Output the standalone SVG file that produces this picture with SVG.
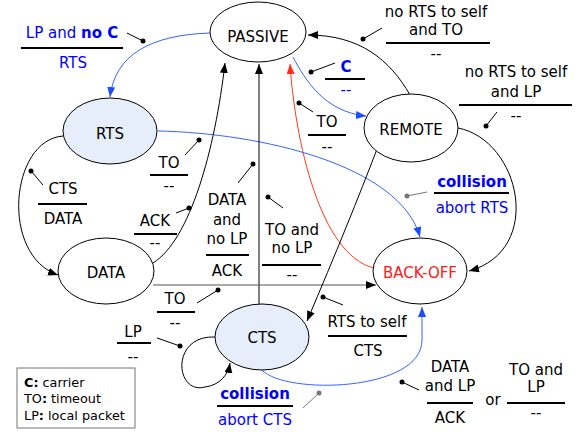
<svg xmlns="http://www.w3.org/2000/svg" width="576" height="433" viewBox="0 0 576 433">
<style>
text{font-family:"DejaVu Sans","Verdana",sans-serif;font-size:15px;fill:#000;text-anchor:middle}
.b{fill:#0000ff}
.r{fill:#ff1a1a}
.bold{font-weight:bold}
.node{fill:#fff;stroke:#000;stroke-width:1}
.hl{fill:#e6eefc}
.bar{stroke:#000;stroke-width:2}
.ptr{stroke:#000;stroke-width:1}
.ptrg{stroke:#777;stroke-width:1}
.dot{fill:#000}
.dotg{fill:#777}
.c{fill:none;stroke-width:1}
.k{stroke:#000}
.bl{stroke:#3366ff}
.rd{stroke:#ff3b1a}
.gy{stroke:#555}
.leg{font-size:12.8px;text-anchor:start}
</style>
<defs>
<marker id="ak" markerUnits="userSpaceOnUse" markerWidth="11" markerHeight="9" refX="10" refY="4" orient="auto"><path d="M0,0 L10,4 L0,8 z" fill="#000"/></marker>
<marker id="ab" markerUnits="userSpaceOnUse" markerWidth="11" markerHeight="9" refX="10" refY="4" orient="auto"><path d="M0,0 L10,4 L0,8 z" fill="#1a4dff"/></marker>
<marker id="ar" markerUnits="userSpaceOnUse" markerWidth="11" markerHeight="9" refX="10" refY="4" orient="auto"><path d="M0,0 L10,4 L0,8 z" fill="#ff2a1a"/></marker>
<marker id="ag" markerUnits="userSpaceOnUse" markerWidth="11" markerHeight="9" refX="10" refY="4" orient="auto"><path d="M0,0 L10,4 L0,8 z" fill="#000"/></marker>
</defs>

<g id="connectors">
<path class="c bl" d="M210,33 C150,35 115,55 110,97" marker-end="url(#ab)"/>
<path class="c bl" d="M293,57 C305,80 325,112 366,116" marker-end="url(#ab)"/>
<path class="c k" d="M410,95 C390,60 360,35 308,35" marker-end="url(#ak)"/>
<path class="c rd" d="M374,268 C320,255 295,140 290,64" marker-end="url(#ar)"/>
<path class="c bl" d="M158,131 C260,133 400,165 420,237" marker-end="url(#ab)"/>
<path class="c k" d="M63,136 C10,140 0,255 58,275" marker-end="url(#ak)"/>
<path class="c k" d="M153,263 C190,240 215,150 225,63" marker-end="url(#ak)"/>
<path class="c k" d="M259,305 L259,64" marker-end="url(#ak)"/>
<path class="c gy" d="M153,285 L376,285" marker-end="url(#ag)"/>
<path class="c k" d="M377,149 Q350,220 307,321" marker-end="url(#ak)"/>
<path class="c k" d="M458,128 C520,140 545,250 469,271" marker-end="url(#ak)"/>
<path class="c k" d="M215,337 C170,335 175,395 205,387 C220,385 228,375 230,363" marker-end="url(#ak)"/>
<path class="c bl" d="M262,370 C285,395 422,392 422,340 L422,307" marker-end="url(#ab)"/>
</g>

<g id="passive"><ellipse class="node" cx="258" cy="32" rx="48" ry="30"/><text x="258" y="42">PASSIVE</text></g>
<g id="rts"><ellipse class="node hl" cx="110" cy="131" rx="47" ry="33"/><text x="110" y="139">RTS</text></g>
<g id="remote"><ellipse class="node" cx="411" cy="128" rx="47" ry="34"/><text x="411" y="135">REMOTE</text></g>
<g id="data"><ellipse class="node" cx="106" cy="271" rx="48" ry="33"/><text x="106" y="278">DATA</text></g>
<g id="backoff"><ellipse class="node" cx="420" cy="271" rx="47" ry="33"/><text class="r" x="420" y="278">BACK-OFF</text></g>
<g id="cts"><ellipse class="node hl" cx="262" cy="337" rx="47" ry="33"/><text x="262" y="343">CTS</text></g>

<g id="labels">
<g id="lA">
<text class="b" x="72" y="38">LP and <tspan class="bold">no C</tspan></text>
<line class="bar" x1="21" y1="48" x2="123" y2="48"/>
<text class="b" x="73" y="68">RTS</text>
<line class="ptr" x1="127" y1="33" x2="143" y2="41"/><circle class="dot" cx="143" cy="41" r="2.5"/>
</g>
<g id="lB">
<text class="b bold" x="346" y="72">C</text>
<line class="bar" x1="325" y1="79" x2="365" y2="79"/>
<text class="b" x="346" y="95">--</text>
<line class="ptr" x1="335" y1="63" x2="311" y2="72"/><circle class="dot" cx="311" cy="72" r="2.5"/>
</g>
<g id="lC">
<text x="436" y="17">no RTS to self</text>
<text x="436" y="35">and TO</text>
<line class="bar" x1="386" y1="43" x2="490" y2="43"/>
<text x="436" y="59">--</text>
<line class="ptr" x1="382" y1="28" x2="363" y2="39"/><circle class="dot" cx="363" cy="39" r="2.5"/>
</g>
<g id="lD">
<text x="516" y="77">no RTS to self</text>
<text x="516" y="97">and LP</text>
<line class="bar" x1="459" y1="105" x2="572" y2="105"/>
<text x="516" y="121">--</text>
<line class="ptr" x1="497" y1="112" x2="486" y2="126"/><circle class="dot" cx="486" cy="126" r="2.5"/>
</g>
<g id="lE">
<text x="327" y="127">TO</text>
<line class="bar" x1="308" y1="135" x2="346" y2="135"/>
<text x="327" y="152">--</text>
<line class="ptr" x1="313" y1="112" x2="299" y2="103"/><circle class="dot" cx="299" cy="103" r="2.5"/>
</g>
<g id="lF">
<text x="169" y="168">TO</text>
<line class="bar" x1="150" y1="175" x2="188" y2="175"/>
<text x="169" y="191">--</text>
<line class="ptr" x1="185" y1="155" x2="199" y2="140"/><circle class="dot" cx="199" cy="140" r="2.5"/>
</g>
<g id="lG">
<text x="63" y="194">CTS</text>
<line class="bar" x1="38" y1="204" x2="87" y2="204"/>
<text x="63" y="224">DATA</text>
<line class="ptr" x1="43" y1="185" x2="31" y2="171"/><circle class="dot" cx="31" cy="171" r="2.5"/>
</g>
<g id="lH">
<text x="155" y="226">ACK</text>
<line class="bar" x1="134" y1="234" x2="177" y2="234"/>
<text x="155" y="248">--</text>
<line class="ptr" x1="176" y1="213" x2="189" y2="208"/><circle class="dot" cx="189" cy="208" r="2.5"/>
</g>
<g id="lI">
<text x="227" y="205">DATA</text>
<text x="227" y="225">and</text>
<text x="227" y="244">no LP</text>
<line class="bar" x1="206" y1="255" x2="249" y2="255"/>
<text x="227" y="276">ACK</text>
<line class="ptr" x1="238" y1="183" x2="253" y2="164"/><circle class="dot" cx="253" cy="164" r="2.5"/>
</g>
<g id="lJ">
<text x="292" y="235">TO and</text>
<text x="292" y="253">no LP</text>
<line class="bar" x1="262" y1="265" x2="321" y2="265"/>
<text x="292" y="280">--</text>
<line class="ptr" x1="283" y1="208" x2="268" y2="197"/><circle class="dot" cx="268" cy="197" r="2.5"/>
</g>
<g id="lK">
<text x="175" y="304">TO</text>
<line class="bar" x1="157" y1="312" x2="195" y2="312"/>
<text x="175" y="328">--</text>
<line class="ptr" x1="197" y1="303" x2="218" y2="290"/><circle class="dot" cx="218" cy="290" r="2.5"/>
</g>
<g id="lL">
<text x="133" y="337">LP</text>
<line class="bar" x1="117" y1="343" x2="151" y2="343"/>
<text x="133" y="362">--</text>
<line class="ptr" x1="157" y1="338" x2="180" y2="346"/><circle class="dot" cx="180" cy="346" r="2.5"/>
</g>
<g id="lM">
<text class="b bold" x="472" y="187">collision</text>
<line class="bar" x1="434" y1="193" x2="509" y2="193"/>
<text class="b" x="472" y="213">abort RTS</text>
<line class="ptrg" x1="427" y1="192" x2="407" y2="196"/><circle class="dotg" cx="407" cy="196" r="2.5"/>
</g>
<g id="lN">
<text class="b bold" x="255" y="399">collision</text>
<line class="bar" x1="217" y1="406" x2="293" y2="406"/>
<text class="b" x="255" y="425">abort CTS</text>
<line class="ptrg" x1="303" y1="408" x2="319" y2="393"/><circle class="dotg" cx="319" cy="393" r="2.5"/>
</g>
<g id="lO">
<text x="367" y="327">RTS to self</text>
<line class="bar" x1="328" y1="336" x2="407" y2="336"/>
<text x="368" y="356">CTS</text>
<line class="ptr" x1="343" y1="305" x2="323" y2="297"/><circle class="dot" cx="323" cy="297" r="2.5"/>
</g>
<g id="lP">
<text x="450" y="372">DATA</text>
<text x="450" y="391">and LP</text>
<line class="bar" x1="427" y1="403" x2="473" y2="403"/>
<text x="450" y="423">ACK</text>
<text x="493" y="405">or</text>
<text x="536" y="375">TO and</text>
<text x="536" y="392">LP</text>
<line class="bar" x1="507" y1="403" x2="565" y2="403"/>
<text x="536" y="418">--</text>
<line class="ptr" x1="419" y1="390" x2="402" y2="382"/><circle class="dot" cx="402" cy="382" r="2.5"/>
</g>
</g>

<g id="legend">
<rect x="17" y="368" width="118" height="60" fill="#fff" stroke="#777" stroke-width="1"/>
<text class="leg" x="24" y="387"><tspan class="bold">C:</tspan> carrier</text>
<text class="leg" x="24" y="403">TO<tspan class="bold">:</tspan> timeout</text>
<text class="leg" x="24" y="420">LP<tspan class="bold">:</tspan> local packet</text>
</g>
</svg>
